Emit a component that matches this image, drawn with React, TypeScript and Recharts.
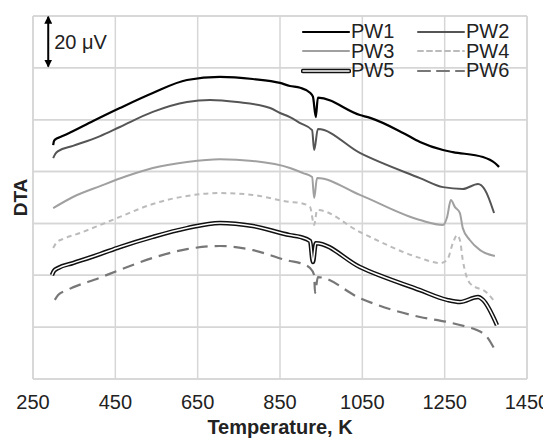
import React from "react";
import {
  CartesianGrid,
  Line,
  LineChart,
  ReferenceLine,
  XAxis,
  YAxis,
} from "recharts";

type Pt = [number, number];

// temperature (K), DTA signal (µV, offset per curve)
const pw1: Pt[] = [
  [299, 90.2], [301, 91.8], [306, 92.6], [316, 93.3], [333, 94.5], [396, 99.5],
  [461, 104.5], [541, 110.3], [624, 115.3], [704, 116.5], [784, 115.7],
  [850, 114.2], [874, 113], [899, 112.3], [923, 110.4], [930, 108.9],
  [937, 101], [942, 108.5], [1044, 101.8], [1069, 100.7], [1149, 94.9],
  [1190, 91.4], [1246, 88.3], [1270, 87.5], [1343, 85.6], [1372, 83.3],
  [1382, 81.8],
];
const pw2: Pt[] = [
  [299, 85.2], [304, 86.8], [311, 87.9], [347, 89.9], [413, 93.7], [461, 97.2],
  [541, 103], [624, 106.8], [680, 107.6], [746, 106.8], [826, 104.5],
  [850, 102.6], [874, 101], [899, 98.7], [928, 96], [933, 88.3], [942, 96.4],
  [1044, 87.2], [1190, 77.5], [1246, 74], [1294, 73.3], [1331, 75.2],
  [1348, 72.9], [1370, 64],
];
const pw3: Pt[] = [
  [299, 65.9], [347, 70.2], [413, 74.4], [478, 78.3], [541, 81.4], [624, 83.7],
  [704, 84.8], [784, 84.1], [874, 81.4], [906, 79.4], [928, 77.9], [933, 69.8],
  [940, 77.5], [1044, 71], [1190, 61.3], [1246, 59.4], [1256, 62.5],
  [1265, 69], [1275, 66.3], [1287, 64], [1294, 58.2], [1311, 53.6],
  [1336, 49.7], [1372, 47.4],
];
const pw4: Pt[] = [
  [299, 50.5], [308, 52.8], [323, 54], [364, 56.3], [413, 59.4], [461, 62.5],
  [541, 67.5], [624, 70.6], [704, 71.7], [784, 71], [874, 68.3], [899, 67.9],
  [923, 66.3], [933, 59.4], [940, 65.2], [1044, 56.7], [1190, 46.7],
  [1239, 44.7], [1256, 45.9], [1270, 52.4], [1280, 55.5], [1287, 53.6],
  [1294, 45.9], [1311, 37], [1353, 33.2], [1372, 29.7],
];
const pw5: Pt[] = [
  [296, 40.1], [301, 41.7], [311, 42.8], [347, 44.7], [413, 48.2], [461, 50.9],
  [541, 54.8], [624, 58.2], [704, 60.2], [784, 59], [874, 55.5], [899, 54.8],
  [923, 53.2], [930, 45.1], [937, 52.4], [1044, 43.2], [1190, 34.3],
  [1256, 30.5], [1287, 29.7], [1331, 31.6], [1343, 30.5], [1377, 20.8],
];
const pw6: Pt[] = [
  [303, 30.5], [311, 32.4], [333, 34.3], [413, 39.1], [461, 42.1], [541, 46.7],
  [624, 50.1], [704, 51.3], [784, 49.7], [874, 45.5], [899, 44.7], [923, 42.8],
  [933, 40.1], [935, 33.2], [942, 39.3], [1044, 31.2], [1190, 23.9],
  [1256, 22], [1304, 20.1], [1328, 18.9], [1353, 16.2], [1372, 11.2],
];

const xTicks = [250, 450, 650, 850, 1050, 1250, 1450];
const yTicks = [0, 20, 40, 60, 80, 100, 120, 140];
const seriesNames = ["PW1", "PW2", "PW3", "PW4", "PW5", "PW6"];

const rows = (pts: Pt[]) => pts.map(([t, v]) => ({ t, v }));

const FONT = "'Liberation Sans', Arial, sans-serif";
const TEXT = "#222";
const GRID = "#d6d6d6";

const styles: Record<string, { stroke: string; width: number; dash?: string; double?: boolean }> = {
  PW1: { stroke: "#000", width: 2.2 },
  PW2: { stroke: "#555", width: 2 },
  PW3: { stroke: "#a0a0a0", width: 2 },
  PW4: { stroke: "#bbb", width: 2, dash: "5 4" },
  PW5: { stroke: "#111", width: 4.5, double: true },
  PW6: { stroke: "#777", width: 2.2, dash: "12 7" },
};

const LegendBox = () => (
  <div
    style={{
      position: "absolute",
      top: 14,
      left: 293,
      display: "grid",
      gridTemplateColumns: "115px 115px",
      fontFamily: FONT,
      fontSize: 20,
      color: TEXT,
    }}
  >
    {seriesNames.map((n) => {
      const s = styles[n];
      return (
        <div key={n} style={{ display: "flex", alignItems: "center", height: 19.5 }}>
          <svg width={50} height={12} style={{ flex: "none" }}>
            <line x1={2} y1={6} x2={48} y2={6} stroke={s.stroke} strokeWidth={s.width} strokeDasharray={s.dash} strokeLinecap="round" />
            {s.double && <line x1={2} y1={6} x2={48} y2={6} stroke="#fff" strokeWidth={1.5} strokeLinecap="round" />}
          </svg>
          <span style={{ display: "inline-block", height: 19.5, lineHeight: "19.5px" }}>{n}</span>
        </div>
      );
    })}
  </div>
);

export default function App() {
  const data = [pw1, pw2, pw3, pw4, pw5, pw6].map(rows);
  return (
    <div style={{ position: "relative", width: 543, height: 433 }}>
      <LineChart width={543} height={433} margin={{ top: 8, right: 24, left: 0, bottom: 7 }}>
        <defs>
          <marker id="arrowHead" markerWidth="8" markerHeight="8" refX="7" refY="4" orient="auto-start-reverse" markerUnits="userSpaceOnUse">
            <path d="M0,0 L8,4 L0,8 z" fill="#000" />
          </marker>
        </defs>
        <CartesianGrid stroke={GRID} strokeWidth={1.5} />
        <XAxis
          type="number"
          dataKey="t"
          domain={[250, 1450]}
          ticks={xTicks}
          axisLine={false}
          tickLine={false}
          tickSize={0}
          tickMargin={16}
          height={55}
          tick={{ fill: TEXT, fontSize: 20, fontFamily: FONT }}
          label={{ value: "Temperature, K", position: "insideBottom", offset: 0, fill: TEXT, fontSize: 20, fontWeight: "bold", fontFamily: FONT }}
        />
        <YAxis
          type="number"
          domain={[0, 140]}
          ticks={yTicks}
          width={25}
          axisLine={false}
          tickLine={false}
          tick={() => <g />}
          label={{ value: "DTA", angle: -90, position: "center", fill: TEXT, fontSize: 19, fontWeight: "bold", fontFamily: FONT }}
        />
        {yTicks.map((y) => (
          <ReferenceLine key={`h${y}`} y={y} stroke={GRID} strokeWidth={1.5} />
        ))}
        <ReferenceLine x={250} stroke={GRID} strokeWidth={1.5} />
        <ReferenceLine x={1450} stroke={GRID} strokeWidth={1.5} />
        <ReferenceLine
          segment={[{ x: 287, y: 120.5 }, { x: 287, y: 139.7 }]}
          stroke="#000"
          strokeWidth={2}
          markerStart="url(#arrowHead)"
          markerEnd="url(#arrowHead)"
          label={{ value: "20 μV", position: "right", offset: 6, fill: TEXT, fontSize: 20, fontFamily: FONT }}
        />
        {seriesNames.map((n, i) => {
          const s = styles[n];
          return (
            <Line
              key={n}
              data={data[i]}
              dataKey="v"
              name={n}
              type="monotone"
              stroke={s.stroke}
              strokeWidth={s.width}
              strokeDasharray={s.dash}
              dot={false}
              activeDot={false}
              isAnimationActive={false}
            />
          );
        })}
        <Line
          data={data[4]}
          dataKey="v"
          name="PW5-inner"
          type="monotone"
          stroke="#fff"
          strokeWidth={1.5}
          dot={false}
          activeDot={false}
          legendType="none"
          isAnimationActive={false}
        />
      </LineChart>
      <LegendBox />
    </div>
  );
}
